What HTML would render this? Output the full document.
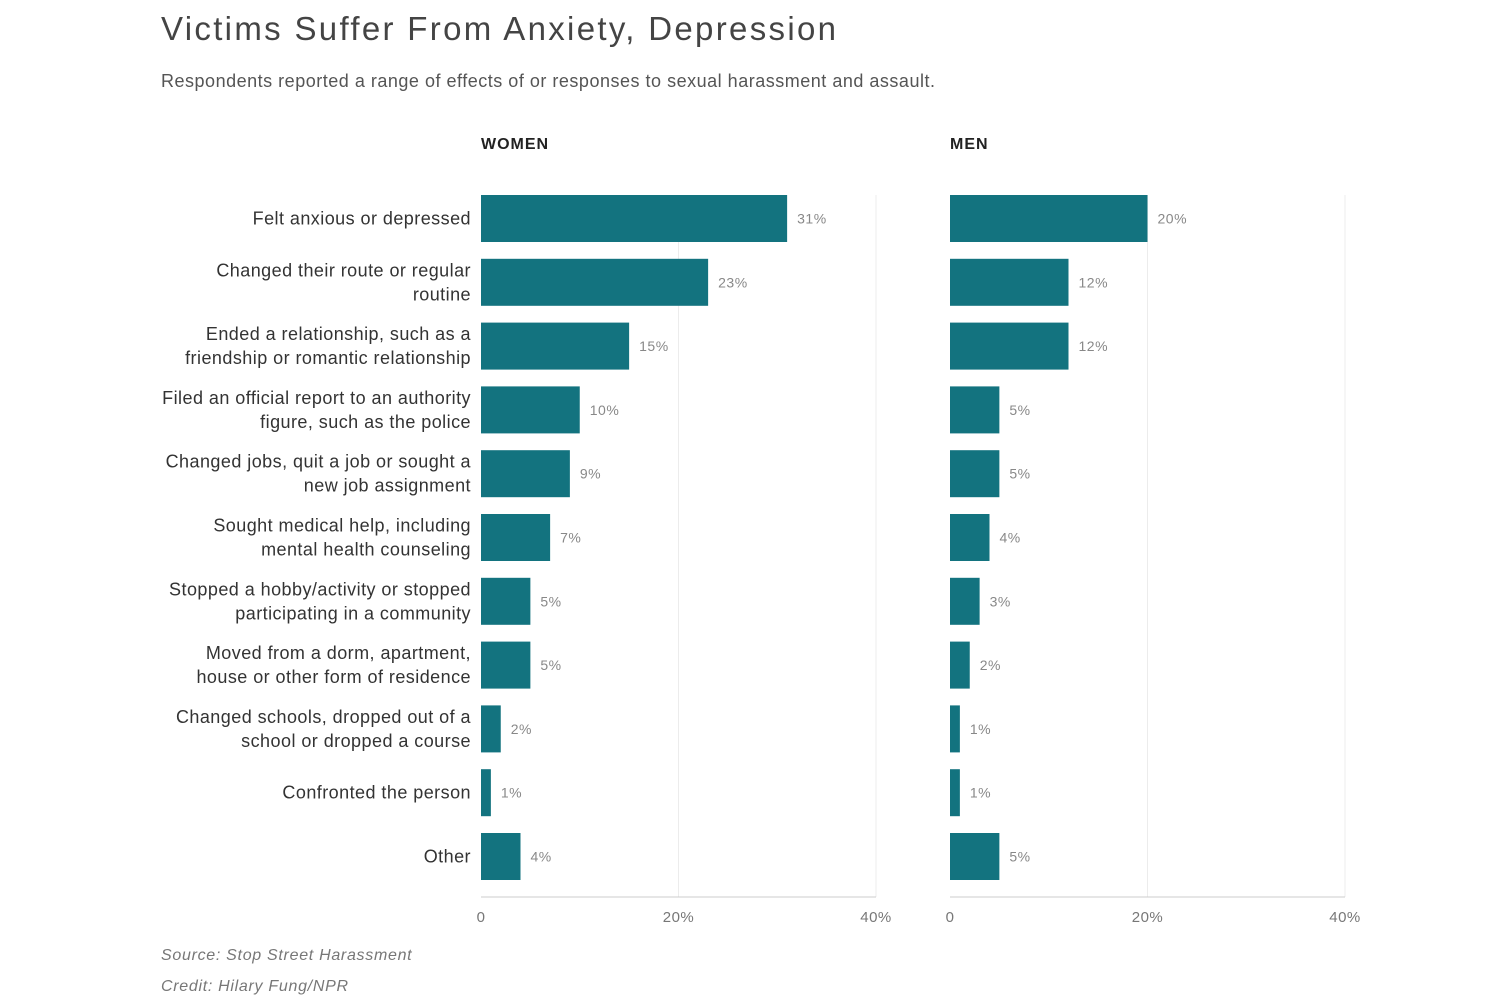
<!DOCTYPE html>
<html><head><meta charset="utf-8"><style>
body{margin:0;width:1500px;height:1000px;background:#fff;font-family:"Liberation Sans",sans-serif;overflow:hidden}
svg text{font-family:"Liberation Sans",sans-serif}
</style></head><body>
<svg id="chart" width="1500" height="1000">
<text x="161" y="40" font-size="33" fill="#444" textLength="675" lengthAdjust="spacing">Victims Suffer From Anxiety, Depression</text>
<text x="161" y="87" font-size="18" fill="#555" textLength="774" lengthAdjust="spacing">Respondents reported a range of effects of or responses to sexual harassment and assault.</text>
<text x="481" y="149" font-size="16" font-weight="bold" fill="#222" letter-spacing="1">WOMEN</text>
<text x="950" y="149" font-size="16" font-weight="bold" fill="#222" letter-spacing="1">MEN</text>
<text x="161" y="960" font-size="16" font-style="italic" fill="#777" letter-spacing="0.7">Source: Stop Street Harassment</text>
<text x="161" y="991" font-size="16" font-style="italic" fill="#777" letter-spacing="0.7">Credit: Hilary Fung/NPR</text>
<g id="plots"></g>
</svg>
<script>
const categories=[["Felt anxious or depressed"],["Changed their route or regular","routine"],["Ended a relationship, such as a","friendship or romantic relationship"],["Filed an official report to an authority","figure, such as the police"],["Changed jobs, quit a job or sought a","new job assignment"],["Sought medical help, including","mental health counseling"],["Stopped a hobby/activity or stopped","participating in a community"],["Moved from a dorm, apartment,","house or other form of residence"],["Changed schools, dropped out of a","school or dropped a course"],["Confronted the person"],["Other"]];
const women=[31,23,15,10,9,7,5,5,2,1,4];
const men=[20,12,12,5,5,4,3,2,1,1,5];
const ticks=[0,20,40];
const tickLabels=["0","20%","40%"];
const NS="http://www.w3.org/2000/svg";
const g=document.getElementById('plots');
function mk(t,a,txt){const e=document.createElementNS(NS,t);for(const k in a)e.setAttribute(k,a[k]);if(txt!==undefined)e.textContent=txt;g.appendChild(e);return e;}
const y0=195,step=63.8,bh=47;
function yOf(i){return y0+i*step;}
function panel(x0,vals,name){
  const sx=v=>x0+v*9.875;
  ticks.forEach((t,j)=>{
    if(t>0){const l=mk('line',{x1:sx(t),x2:sx(t),y1:195,y2:897,stroke:'#ececec','stroke-width':1});
    
    }
    const tl=mk('text',{x:sx(t),y:922,'font-size':15,fill:'#777','text-anchor':'middle','letter-spacing':0.5},tickLabels[j]);
    
    
  });
  const ax=mk('line',{x1:x0,x2:sx(40),y1:897,y2:897,stroke:'#ccc','stroke-width':1});
  
  
  vals.forEach((v,i)=>{
    const r=mk('rect',{x:x0,y:yOf(i),width:v*9.875,height:bh,fill:'#13737f'});
    
    
    const t=mk('text',{x:sx(v)+10,y:yOf(i)+bh/2+5,'font-size':14,fill:'#888','letter-spacing':0.5},v+'%');
    
    
  });
}
panel(481,women,'women');
panel(950,men,'men');
categories.forEach((lines,i)=>{
  const cy=yOf(i)+bh/2;
  lines.forEach((s,k)=>{
    const y=cy+6+(k-(lines.length-1)/2)*24;
    const t=mk('text',{x:471,y:y,'font-size':18,fill:'#333','text-anchor':'end','letter-spacing':0.45},s);
    
    
  });
});
</script>
</body></html>
